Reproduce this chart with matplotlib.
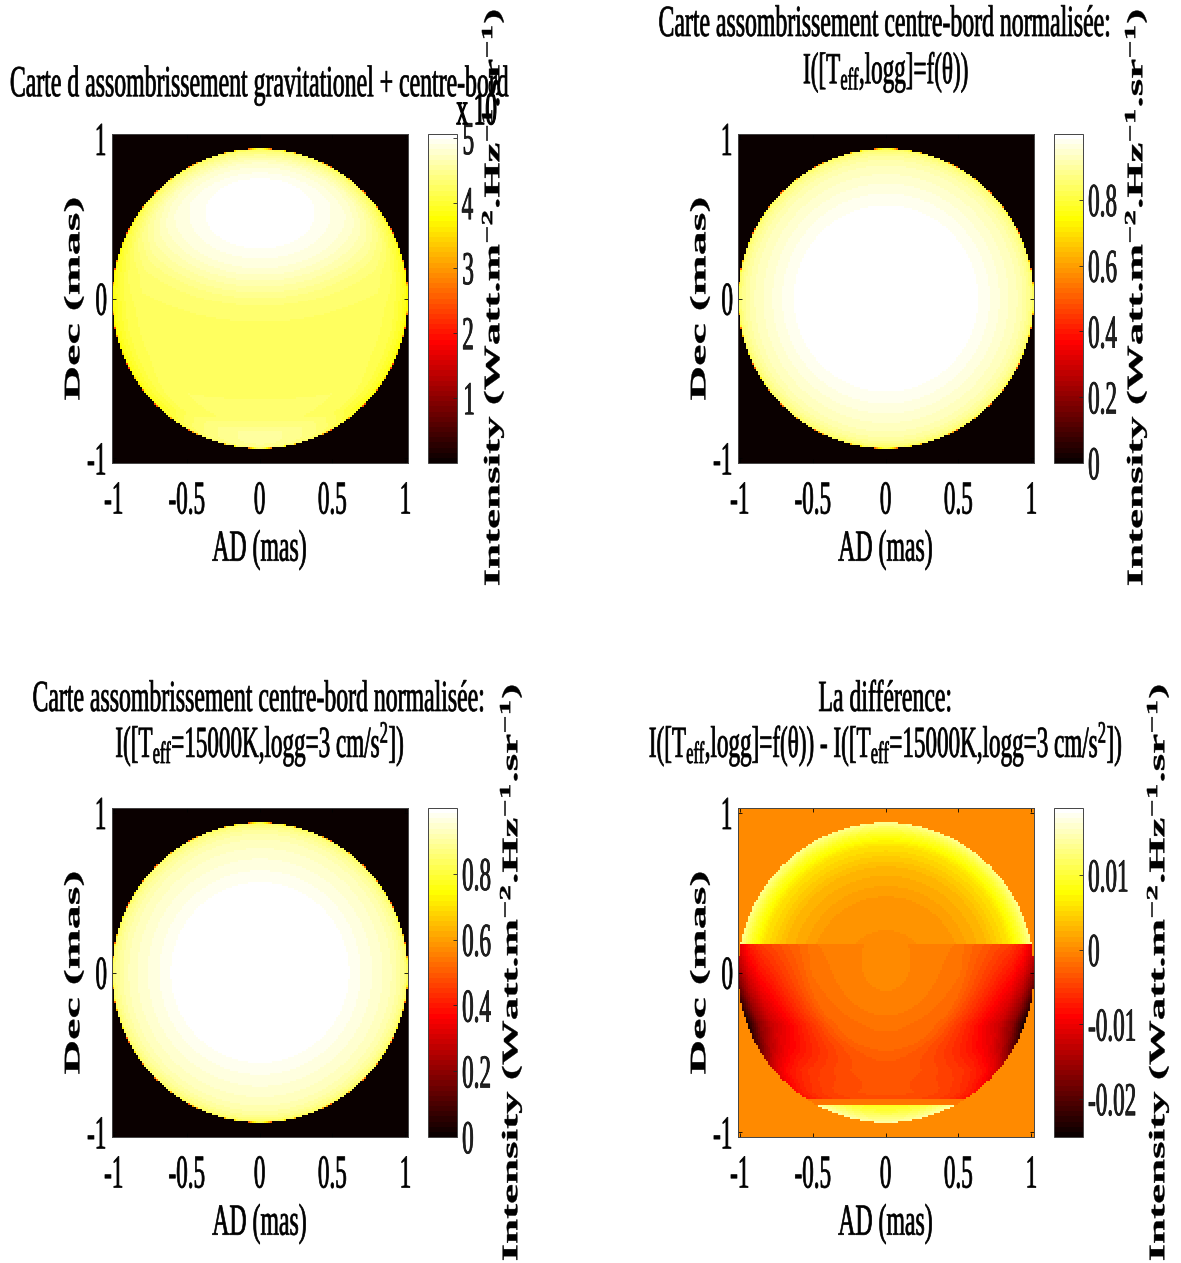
import numpy as np
import matplotlib
matplotlib.use("Agg")
import matplotlib.pyplot as plt
from matplotlib.patheffects import AbstractPathEffect
from matplotlib.transforms import Affine2D, Bbox

# ---- values ----
xticks = [-1, -0.5, 0, 0.5, 1]
xticklabels = ["-1", "-0.5", "0", "0.5", "1"]
yticks = [-1, 0, 1]
yticklabels = ["-1", "0", "1"]

# limb profile of the two normalised maps (radius fraction -> intensity)
limb_r = [0.0, 0.55, 0.62, 0.72, 0.80, 0.88, 0.94, 0.97, 0.99, 0.997, 1.0]
limb_teff = [1.0, 1.0, 0.985, 0.965, 0.945, 0.925, 0.90, 0.875, 0.85, 0.82, 0.5]
limb_fixed_r = [0.0, 0.52, 0.60, 0.70, 0.80, 0.88, 0.94, 0.97, 0.99, 0.997, 1.0]
limb_fixed = [1.0, 1.0, 0.985, 0.965, 0.945, 0.925, 0.90, 0.875, 0.85, 0.82, 0.5]

# first map: level against distance from the hot spot, and limb factor
hot_y = 0.57
hot_flatten = 0.63
hot_d = [0.0, 0.38, 0.6, 0.9, 1.03, 1.33, 1.7, 2.17, 2.5, 2.7]
hot_level = [1.0, 0.984, 0.95, 0.875, 0.85, 0.835, 0.835, 0.85, 0.98, 1.0]
edge_r = [0.0, 0.8, 0.9, 0.96, 0.98, 0.99, 0.997, 1.0]
edge_gain = [1.0, 1.0, 0.98, 0.94, 0.92, 0.90, 0.88, 0.55]
map1_peak = 5.06

# difference map: radial shape, limb amplitude per latitude
diff_r = [0.0, 0.25, 0.5, 0.7, 0.85, 0.93, 0.97, 1.0]
diff_top = [0.0, 0.0003, 0.001, 0.003, 0.006, 0.0095, 0.012, 0.014]
diff_shape = [0.0, 0.03, 0.10, 0.32, 0.50, 0.68, 0.85, 1.0]
diff_y = [-0.84, -0.8, -0.65, -0.5, -0.35, -0.2, 0.0, 0.19]
diff_amp = [-0.008, -0.008, -0.012, -0.020, -0.025, -0.022, -0.016, -0.010]
diff_cut_high = 0.19
diff_cut_low = -0.84
diff_strip_low = -0.88
diff_strip_value = -0.001
diff_cap_offset = 0.001

title_lines = [
    ["Carte d assombrissement gravitationel + centre-bord"],
    ["Carte assombrissement centre-bord normalisée:", "I([T$_{\\mathrm{eff}}$,logg]=f(θ))"],
    ["Carte assombrissement centre-bord normalisée:", "I([T$_{\\mathrm{eff}}$=15000K,logg=3 cm/s$^{2}$])"],
    ["La différence:", "I([T$_{\\mathrm{eff}}$,logg]=f(θ)) - I([T$_{\\mathrm{eff}}$=15000K,logg=3 cm/s$^{2}$])"],
]
cbar_ticks = [[1, 2, 3, 4, 5], [0, 0.2, 0.4, 0.6, 0.8], [0, 0.2, 0.4, 0.6, 0.8], [-0.02, -0.01, 0, 0.01]]
cbar_labels = [["1", "2", "3", "4", "5"], ["0", "0.2", "0.4", "0.6", "0.8"], ["0", "0.2", "0.4", "0.6", "0.8"],
               ["-0.02", "-0.01", "0", "0.01"]]
cbar_range = [(0, 5.06), (0, 1), (0, 1), (-0.0251, 0.019)]
xlabel_text = "AD (mas)"
ylabel_text = "Dec (mas)"
cbar_text = "Intensity (Watt.m$^{\\mathbf{-2}}$.Hz$^{\\mathbf{-1}}$.sr$^{\\mathbf{-1}}$)"
exponent_text = "x 10"

# ---- layout (pixels) ----
W, H = 1181, 1263
plt.rcParams["font.family"] = "Liberation Serif"
plt.rcParams["mathtext.fontset"] = "custom"
plt.rcParams["mathtext.rm"] = "Liberation Serif"
plt.rcParams["mathtext.it"] = "Liberation Serif:italic"
plt.rcParams["mathtext.bf"] = "Liberation Serif:bold"


class Squeeze(AbstractPathEffect):
    """Scale a text line in its own frame about an anchor, with a thin stroke."""

    def __init__(self, sx, sy=1.0, anchor="center", lw=0.5):
        super().__init__()
        self.sx, self.sy, self.anchor, self.lw = sx, sy, anchor, lw

    def draw_path(self, renderer, gc, tpath, affine, rgbFace=None):
        ext = tpath.get_extents()
        cx = {"center": 0.5 * (ext.x0 + ext.x1), "left": ext.x0, "right": ext.x1}[self.anchor]
        local = Affine2D().translate(-cx, 0).scale(self.sx, self.sy).translate(cx, 0)
        gc0 = renderer.new_gc()
        gc0.copy_properties(gc)
        gc0.set_linewidth(self.lw)
        gc0.set_foreground("black")
        renderer.draw_path(gc0, tpath, local + affine, rgbFace)
        gc0.restore()


def squeeze(t, sx, sy=1.0, anchor="center", lw=0.5):
    t.set_path_effects([Squeeze(sx, sy, anchor, lw)])
    orig = t.get_window_extent

    def extent(renderer=None, dpi=None):
        b = orig(renderer, dpi)
        fx_, fy_ = (sy, sx) if t.get_rotation() == 90 else (sx, sy)
        if anchor == "left":
            x0 = b.x0
        elif anchor == "right":
            x0 = b.x1 - b.width * fx_
        else:
            x0 = 0.5 * (b.x0 + b.x1) - 0.5 * b.width * fx_
        y0 = 0.5 * (b.y0 + b.y1) - 0.5 * b.height * fy_
        return Bbox.from_bounds(x0, y0, b.width * fx_, b.height * fy_)

    t.get_window_extent = extent
    return t


def grid():
    px = (np.arange(148) + 0.5) / 148 * 296 - 148
    py = (np.arange(165) + 0.5) / 165 * 329 - 164.5
    x, y = np.meshgrid(px / 148.0, py / 150.0)
    return x, y, np.hypot(x, y)


def map_gravity():
    x, y, r = grid()
    d = np.hypot(x, (y - hot_y) / hot_flatten)
    v = map1_peak * np.interp(d, hot_d, hot_level) * np.interp(r, edge_r, edge_gain)
    return np.where(r <= 1, v, 0.0)


def map_teff():
    x, y, r = grid()
    return np.where(r <= 1, np.interp(r, limb_r, limb_teff), 0.0)


def map_fixed():
    x, y, r = grid()
    return np.where(r <= 1, np.interp(r, limb_fixed_r, limb_fixed), 0.0)


def map_diff():
    x, y, r = grid()
    top = np.interp(r, diff_r, diff_top)
    mid = np.interp(y, diff_y, diff_amp) * np.interp(r, diff_r, diff_shape)
    v = np.where(y >= diff_cut_high, top, mid)
    v = np.where(y < diff_cut_low, diff_strip_value, v)
    v = np.where(y < diff_strip_low, top + diff_cap_offset, v)
    return np.where(r <= 1, v, 0.0)


maps = [map_gravity(), map_teff(), map_fixed(), map_diff()]
cmap = plt.get_cmap("hot", 64)

ax_px = [(112, 134), (738, 134), (112, 808), (738, 808)]
cb_px = [(428, 134), (1054, 134), (428, 808), (1054, 808)]
AW, AH = 296, 329
CW = 29

title_x = [260, 886, 260, 886]
title_y = [[85], [25, 73], [700, 745], [700, 745]]
cbar_label_x = [490, 1133, 508, 1155]
cbar_label_y = [297, 297, 972, 972]

fig = plt.figure(figsize=(W / 100, H / 100), dpi=100)


def fx(p):
    return p / W


def fy(p):
    return 1 - p / H


TICK_SIZE, TICK_SX = 34, 0.49
TEXT_SIZE, TEXT_SX = 32, 0.535
MATH_SX = 0.52

for i in range(4):
    l, t = ax_px[i]
    ax = fig.add_axes([fx(l), fy(t + AH), AW / W, AH / H])
    vmin, vmax = cbar_range[i]
    im = ax.imshow(maps[i], origin="lower", extent=[-1.014, 1.02, -1.03, 1.03], aspect="auto",
                   cmap=cmap, vmin=vmin, vmax=vmax, interpolation="nearest")
    ax.set_xticks(xticks)
    ax.set_xticklabels(xticklabels)
    ax.set_yticks(yticks)
    ax.set_yticklabels(yticklabels)
    ax.tick_params(direction="in", length=3, width=0.6, top=True, right=True)
    ax.tick_params(axis="x", pad=13)
    ax.tick_params(axis="y", pad=3)
    for lab in ax.get_xticklabels():
        lab.set_fontsize(TICK_SIZE)
        squeeze(lab, TICK_SX)
    for lab in ax.get_yticklabels():
        lab.set_fontsize(TICK_SIZE)
        squeeze(lab, TICK_SX, anchor="right")
    for s in ax.spines.values():
        s.set_linewidth(0.7)
        s.set_color("#444444")
    squeeze(fig.text(fx(l + AW / 2), fy(t + AH + 87), xlabel_text, fontsize=TEXT_SIZE, ha="center", va="center"),
            TEXT_SX)
    squeeze(fig.text(fx(l - 41), fy(t + AH / 2), ylabel_text, fontsize=24, fontweight="bold", rotation=90,
                     ha="center", va="center"), 1.44, 0.66, lw=0.3)
    for line, py in zip(title_lines[i], title_y[i]):
        sx = MATH_SX if "$" in line else TEXT_SX
        squeeze(fig.text(fx(title_x[i]), fy(py), line, fontsize=TEXT_SIZE, ha="center", va="center"), sx)

    cl, ct = cb_px[i]
    cax = fig.add_axes([fx(cl), fy(ct + AH), CW / W, AH / H])
    cb = fig.colorbar(im, cax=cax)
    cb.set_ticks(cbar_ticks[i])
    cb.set_ticklabels(cbar_labels[i])
    cax.tick_params(direction="in", length=3, width=0.6, pad=3, right=True, colors="#222222")
    for lab in cax.get_yticklabels():
        lab.set_fontsize(TICK_SIZE)
        squeeze(lab, TICK_SX, anchor="left")
    cb.outline.set_linewidth(0.7)
    cb.outline.set_edgecolor("#444444")
    squeeze(fig.text(fx(cbar_label_x[i]), fy(cbar_label_y[i]), cbar_text, fontsize=24, fontweight="bold",
                     rotation=90, ha="center", va="center"), 1.35, 0.66, lw=0.3)

squeeze(fig.text(fx(477), fy(113), exponent_text, fontsize=TICK_SIZE, ha="center", va="center"), TICK_SX, lw=0.8)

fig.savefig("out.png", dpi=100)
